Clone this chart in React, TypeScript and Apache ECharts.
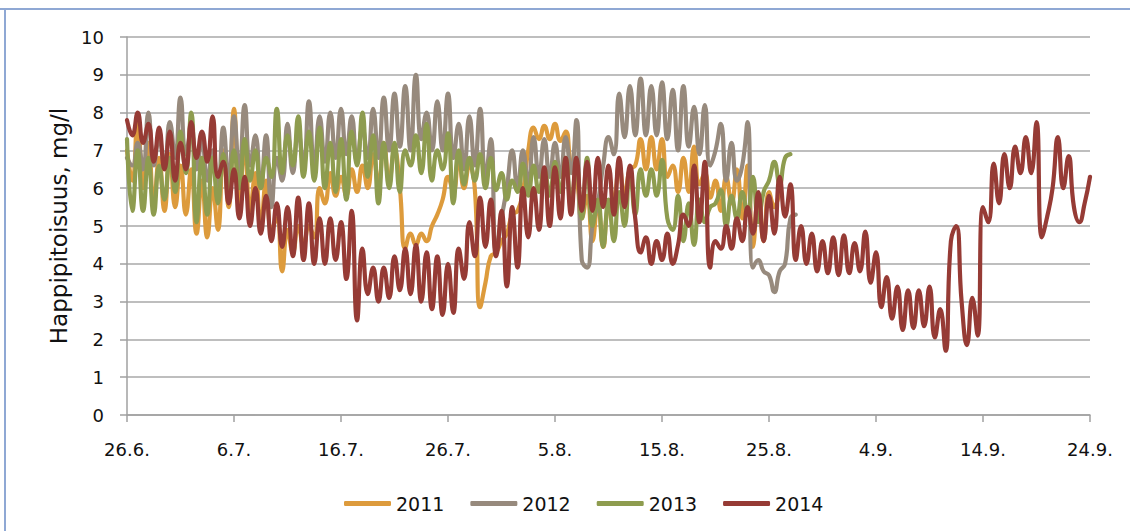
import React, { useEffect, useRef } from "react";
import * as echarts from "echarts";

// x axis: days after 26.6., tick every 10 days
const xTickLabels = ["26.6.", "6.7.", "16.7.", "26.7.", "5.8.", "15.8.", "25.8.", "4.9.", "14.9.", "24.9."];
const seriesNames = ["2011", "2012", "2013", "2014"];
const seriesColors = ["#DD9B3C", "#978A7D", "#8E9C4F", "#963B35"];
// readings every half day, starting at 26.6.
const stepDays = 0.5;

const o2011 = [
  7.0, 6.2, 7.9, 6.0, 7.2, 5.6, 6.8, 5.4, 6.9, 5.5,
  6.6, 5.3, 6.5, 4.8, 6.2, 4.7, 6.0, 4.9, 7.0, 5.5,
  8.1, 5.6, 7.1, 5.4, 6.4, 5.0, 6.2, 4.9, 5.2, 3.8,
  4.9, 4.3, 5.0, 4.5, 5.0, 4.7, 6.0, 5.6, 6.4, 5.8,
  6.3, 5.8, 6.5, 5.9, 6.6, 6.0, 6.9, 6.1, 7.2, 6.2,
  7.0, 6.0, 4.4, 4.8, 4.5, 4.8, 4.6, 5.0, 5.3, 5.7,
  6.3, 5.9, 6.8, 6.0, 6.6, 6.0, 2.85, 3.5, 4.2, 4.3,
  4.6, 4.8, 5.3, 5.4, 5.9, 7.0, 7.6, 7.3, 7.65, 7.3,
  7.7, 7.25, 7.5, 6.6, 6.3, 5.2, 5.8, 4.6, 5.6, 4.45,
  5.6, 5.7, 6.6, 5.8, 6.5, 6.6, 7.3, 6.5, 7.35, 6.5,
  7.3, 6.3, 6.6, 5.9, 6.8, 5.9, 7.1, 6.1, 6.4, 5.75,
  6.2, 5.4, 6.3, 5.6, 6.5, 5.2, 6.6, 4.45, 5.8, 4.6,
  5.9, 5.5, 6.0,
];

const o2012 = [
  6.8, 6.6, 7.2, 6.5, 8.0, 6.6, 7.3, 6.6, 7.75, 6.8,
  8.4, 6.9, 7.5, 6.5, 7.3, 6.2, 7.0, 6.0, 7.6, 6.2,
  7.9, 6.4, 8.2, 6.6, 7.4, 6.0, 7.4, 5.5, 6.8, 6.2,
  7.7, 6.4, 7.5, 6.6, 8.3, 6.5, 7.9, 6.7, 8.0, 6.8,
  8.1, 6.9, 7.9, 6.7, 7.6, 6.8, 8.1, 6.8, 8.4, 7.0,
  8.5, 7.1, 8.7, 7.0, 9.0, 7.3, 8.0, 7.0, 8.3, 7.0,
  8.5, 6.8, 7.7, 6.5, 7.9, 6.6, 8.1, 6.3, 7.3, 4.3,
  5.2, 6.0, 7.0, 6.0, 7.0, 6.1, 7.35, 6.3, 7.3, 6.3,
  7.2, 6.3, 7.35, 6.4, 7.8, 4.1, 3.9, 5.0, 5.6, 6.6,
  7.35, 6.9, 8.5, 7.35, 8.7, 7.4, 8.9, 7.4, 8.7, 7.4,
  8.8, 7.3, 8.6, 7.0, 8.7, 7.1, 8.15, 6.9, 8.2, 6.6,
  7.0, 7.7, 6.2, 7.2, 6.2, 6.6, 7.75, 3.9, 4.1, 3.8,
  3.7, 3.25, 3.8, 4.0, 5.2, 5.3,
];

const o2013 = [
  7.3, 5.4, 7.0, 5.4, 6.8, 5.3, 6.6, 5.7, 6.8, 5.9,
  7.5, 6.4, 8.0, 5.1, 6.8, 5.3, 6.8, 5.6, 6.9, 5.8,
  7.0, 6.0, 7.3, 6.2, 7.0, 6.0, 6.8, 6.3, 8.1, 6.4,
  7.4, 6.6, 7.9, 6.3, 7.5, 6.2, 7.6, 6.0, 7.2, 5.9,
  7.3, 5.7, 7.5, 6.6, 8.0, 6.3, 7.4, 5.6, 7.2, 6.0,
  7.2, 5.9, 7.0, 6.6, 7.4, 6.4, 7.7, 6.2, 7.0, 6.5,
  7.45, 5.6, 7.0, 6.1, 6.8, 6.2, 6.9, 6.0, 6.8, 5.95,
  6.4, 5.7, 6.2, 5.9, 6.65, 5.8, 6.6, 5.9, 6.5, 5.8,
  6.7, 5.9, 6.8, 5.6, 6.6, 5.2, 6.8, 5.0, 5.7, 4.45,
  5.7, 4.6, 5.9, 5.0, 6.5, 5.3, 6.5, 5.8, 6.5, 5.8,
  6.75, 5.2, 4.9, 5.8, 4.6, 5.6, 4.5, 5.7, 5.1, 5.5,
  5.6, 5.95, 5.0, 5.8, 5.2, 5.9, 5.3, 6.3, 5.1, 5.9,
  6.2, 6.7, 6.1, 6.8, 6.9,
];

const o2014 = [
  7.8, 7.4, 8.0, 7.2, 7.7, 6.7, 7.6, 6.5, 7.5, 6.2,
  7.2, 6.5, 7.75, 6.8, 7.5, 6.7, 7.9, 6.3, 6.7, 5.6,
  6.5, 5.2, 6.3, 5.0, 6.0, 4.8, 5.8, 4.6, 5.6, 4.45,
  5.5, 4.2, 5.75, 4.1, 5.6, 4.0, 5.2, 4.0, 5.2, 4.1,
  5.1, 3.6, 5.4, 2.5, 4.4, 3.2, 3.9, 3.0, 3.9, 3.1,
  4.2, 3.3, 4.4, 3.2, 4.5, 3.0, 4.3, 2.8, 4.2, 2.65,
  4.0, 2.7, 4.4, 3.6, 5.1, 4.2, 5.75, 4.45, 5.7, 4.2,
  5.4, 3.4, 5.5, 3.9, 6.0, 4.7, 6.0, 4.9, 6.55, 5.0,
  6.55, 5.2, 6.8, 5.3, 6.8, 5.4, 6.7, 5.4, 6.8, 5.5,
  6.6, 5.3, 6.8, 5.5, 6.6, 5.2, 4.3, 4.7, 4.0, 4.6,
  4.1, 4.8, 4.0, 4.5, 5.3, 5.0, 6.6, 5.1, 6.7, 3.9,
  4.6, 4.4, 5.0, 4.4, 5.2, 4.6, 5.5, 4.8, 5.9, 4.6,
  5.8, 4.8, 6.3, 5.25, 6.1, 4.1, 5.0, 4.0, 4.8, 3.8,
  4.6, 3.75, 4.7, 3.7, 4.75, 3.75, 4.55, 3.8, 4.85, 3.5,
  4.3, 2.85, 3.65, 2.55, 3.4, 2.25, 3.3, 2.3, 3.3, 2.35,
  3.4, 2.05, 2.8, 1.7, 4.6, 5.0, 3.0, 1.85, 3.1, 2.1,
  5.5, 5.1, 6.65, 5.6, 6.9, 6.0, 7.1, 6.4, 7.35, 6.4,
  7.75, 4.7, 5.25, 6.0, 7.35, 6.0, 6.85, 5.5, 5.1, 5.6,
  6.3,
];

const allSeries = [o2011, o2012, o2013, o2014];

const FONT = "DejaVu Sans";

export default function App() {
  const ref = useRef<HTMLDivElement>(null);

  useEffect(() => {
    const chart = echarts.init(ref.current as HTMLDivElement, undefined, { renderer: "svg" });
    const toPoints = (arr: number[]) => arr.map((v, i) => [i * stepDays, v]);
    const axisGray = "#A0A0A0";

    chart.setOption({
      animation: false,
      backgroundColor: "#ffffff",
      graphic: [
        { type: "line", shape: { x1: 0, y1: 9, x2: 1130, y2: 9 }, style: { stroke: "#8FA8D4", lineWidth: 2 } },
        { type: "line", shape: { x1: 5, y1: 9, x2: 5, y2: 531 }, style: { stroke: "#8FA8D4", lineWidth: 2 } },
      ],
      grid: { left: 127, right: 40, top: 37, bottom: 116 },
      legend: {
        left: 339,
        top: 489,
        icon: "roundRect",
        itemWidth: 47,
        itemHeight: 5,
        itemGap: 26,
        data: seriesNames,
        textStyle: { fontFamily: FONT, fontSize: 19, color: "#111" },
      },
      xAxis: {
        type: "value",
        min: 0,
        max: 90,
        interval: 10,
        axisLine: { show: true, lineStyle: { color: axisGray, width: 1.5 } },
        axisTick: { show: true, length: 7, lineStyle: { color: axisGray, width: 1.5 } },
        splitLine: { show: false },
        axisLabel: {
          formatter: (v: number) => xTickLabels[Math.round(v / 10)] ?? "",
          fontFamily: FONT,
          fontSize: 18,
          color: "#111",
          margin: 25,
          showMinLabel: true,
          showMaxLabel: true,
        },
      },
      yAxis: {
        type: "value",
        min: 0,
        max: 10,
        interval: 1,
        name: "Happipitoisuus, mg/l",
        nameLocation: "middle",
        nameRotate: 90,
        nameGap: 55,
        nameTextStyle: { fontFamily: FONT, fontSize: 23, color: "#111" },
        axisLine: { show: true, lineStyle: { color: axisGray, width: 1.5 } },
        axisTick: { show: true, length: 7, lineStyle: { color: axisGray, width: 1.5 } },
        splitLine: { show: true, lineStyle: { color: "#A8A8A8", width: 1.5 } },
        axisLabel: { fontFamily: FONT, fontSize: 18, color: "#111", margin: 23 },
      },
      series: allSeries.map((arr, i) => ({
        name: seriesNames[i],
        type: "line",
        data: toPoints(arr),
        showSymbol: false,
        smooth: 0.5,
        color: seriesColors[i],
        lineStyle: { width: 4.2, color: seriesColors[i], cap: "round", join: "round" },
        z: 2 + i,
      })),
    });

    return () => chart.dispose();
  }, []);

  return (
    <div
      ref={ref}
      style={{ position: "fixed", left: 0, top: 0, width: 1130, height: 531, background: "#fff" }}
    />
  );
}
